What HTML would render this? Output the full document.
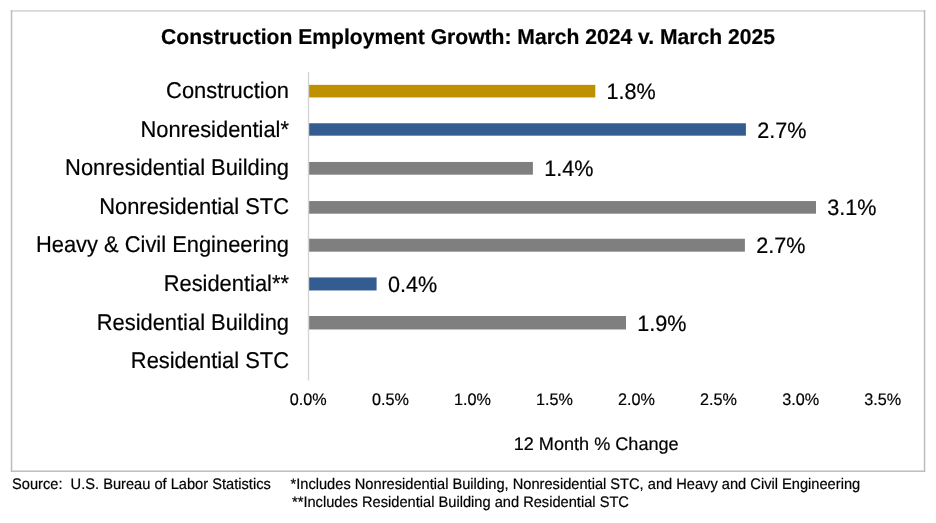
<!DOCTYPE html>
<html><head><meta charset="utf-8"><style>
html,body{margin:0;padding:0;background:#fff;width:936px;height:523px;overflow:hidden}
svg{display:block;will-change:transform}
text{font-family:"Liberation Sans",sans-serif;fill:#000;stroke:#000;stroke-width:0.2px;text-rendering:geometricPrecision}
</style></head><body>
<svg width="936" height="523" viewBox="0 0 936 523">
<rect x="10.79" y="10.18" width="914.5" height="1.5" fill="#d2d2d2"/>
<rect x="10.79" y="470.45" width="914.5" height="1.5" fill="#bdbdbd"/>
<rect x="10.79" y="10.18" width="1.5" height="461.77" fill="#bdbdbd"/>
<rect x="923.79" y="10.18" width="1.5" height="461.77" fill="#bdbdbd"/>
<text transform="translate(468.00 44.40) scale(1 1.02)" font-size="21.1" text-anchor="middle" font-weight="bold">Construction Employment Growth: March 2024 v. March 2025</text>
<text transform="translate(289.00 98.20) scale(1 1.04)" font-size="21.9" text-anchor="end">Construction</text>
<rect x="309" y="84.84" width="286.30" height="12.63" fill="#BF9000"/>
<text transform="translate(606.60 99.25) scale(1 1.03)" font-size="21.6">1.8%</text>
<text transform="translate(289.00 136.77) scale(1 1.04)" font-size="21.9" text-anchor="end">Nonresidential*</text>
<rect x="309" y="123.26" width="436.90" height="12.42" fill="#335D91"/>
<text transform="translate(757.20 137.57) scale(1 1.03)" font-size="21.6">2.7%</text>
<text transform="translate(289.00 175.34) scale(1 1.04)" font-size="21.9" text-anchor="end">Nonresidential Building</text>
<rect x="309" y="161.97" width="223.90" height="12.71" fill="#7F7F7F"/>
<text transform="translate(544.20 176.42) scale(1 1.03)" font-size="21.6">1.4%</text>
<text transform="translate(289.00 213.91) scale(1 1.04)" font-size="21.9" text-anchor="end">Nonresidential STC</text>
<rect x="309" y="201.05" width="507.00" height="12.65" fill="#7F7F7F"/>
<text transform="translate(827.30 215.47) scale(1 1.03)" font-size="21.6">3.1%</text>
<text transform="translate(289.00 252.48) scale(1 1.04)" font-size="21.9" text-anchor="end">Heavy &amp; Civil Engineering</text>
<rect x="309" y="238.72" width="435.90" height="12.96" fill="#7F7F7F"/>
<text transform="translate(756.20 253.30) scale(1 1.03)" font-size="21.6">2.7%</text>
<text transform="translate(289.00 291.05) scale(1 1.04)" font-size="21.9" text-anchor="end">Residential**</text>
<rect x="309" y="277.42" width="67.60" height="13.05" fill="#335D91"/>
<text transform="translate(387.90 292.05) scale(1 1.03)" font-size="21.6">0.4%</text>
<text transform="translate(289.00 329.62) scale(1 1.04)" font-size="21.9" text-anchor="end">Residential Building</text>
<rect x="309" y="316.00" width="317.00" height="13.47" fill="#7F7F7F"/>
<text transform="translate(637.30 330.84) scale(1 1.03)" font-size="21.6">1.9%</text>
<text transform="translate(289.00 368.19) scale(1 1.04)" font-size="21.9" text-anchor="end">Residential STC</text>
<rect x="307.8" y="72" width="1.4" height="308.5" fill="#d4d4d4"/>
<text transform="translate(308.30 404.80) scale(1 1.03)" font-size="16.2" text-anchor="middle">0.0%</text>
<text transform="translate(390.35 404.80) scale(1 1.03)" font-size="16.2" text-anchor="middle">0.5%</text>
<text transform="translate(472.40 404.80) scale(1 1.03)" font-size="16.2" text-anchor="middle">1.0%</text>
<text transform="translate(554.45 404.80) scale(1 1.03)" font-size="16.2" text-anchor="middle">1.5%</text>
<text transform="translate(636.50 404.80) scale(1 1.03)" font-size="16.2" text-anchor="middle">2.0%</text>
<text transform="translate(718.55 404.80) scale(1 1.03)" font-size="16.2" text-anchor="middle">2.5%</text>
<text transform="translate(800.60 404.80) scale(1 1.03)" font-size="16.2" text-anchor="middle">3.0%</text>
<text transform="translate(882.65 404.80) scale(1 1.03)" font-size="16.2" text-anchor="middle">3.5%</text>
<text transform="translate(596.20 450.20) scale(1 1.0)" font-size="18.1" text-anchor="middle">12 Month % Change</text>
<text transform="translate(12.00 489.20) scale(1 1.04)" font-size="14.65" xml:space="preserve">Source:  U.S. Bureau of Labor Statistics</text>
<text transform="translate(290.50 489.20) scale(1 1.04)" font-size="14.65">*Includes Nonresidential Building, Nonresidential STC, and Heavy and Civil Engineering</text>
<text transform="translate(292.00 506.90) scale(1 1.04)" font-size="14.65">**Includes Residential Building and Residential STC</text>
</svg>
</body></html>
